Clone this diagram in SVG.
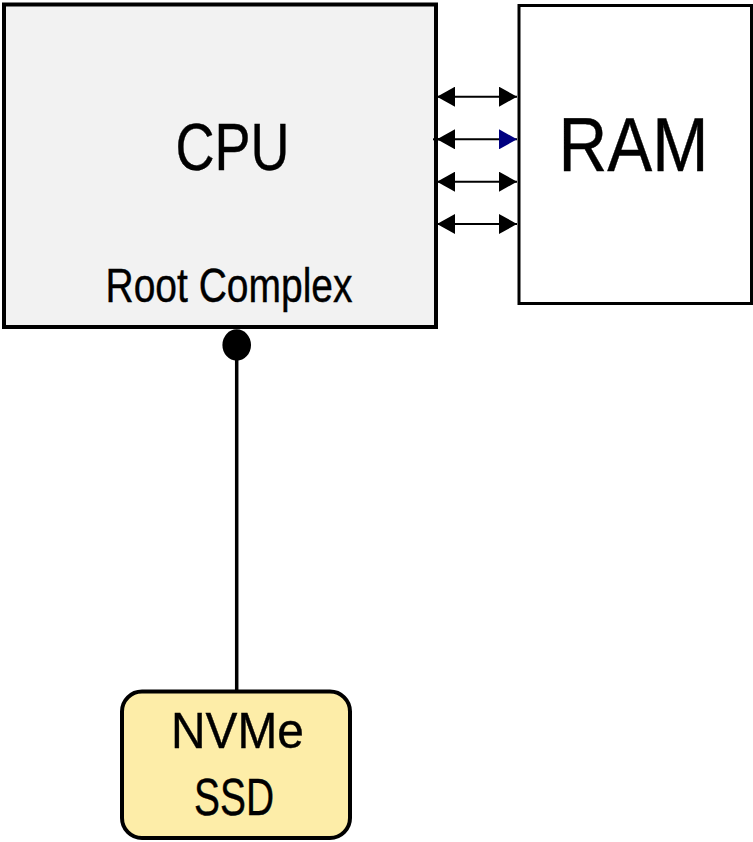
<svg xmlns="http://www.w3.org/2000/svg" width="753" height="842" viewBox="0 0 753 842">
<defs>
<style>
text{font-family:"Liberation Sans",Arial,sans-serif;fill:#000;text-anchor:middle;stroke:#000;stroke-width:0.4}
.box{stroke:#000}
.bus{stroke:#000;stroke-width:2;fill:none}
</style>
<marker id="ah" viewBox="0 0 18 20" refX="18" refY="10" markerWidth="18" markerHeight="20" markerUnits="userSpaceOnUse" orient="auto-start-reverse">
<path d="M0,0 L18,10 L0,20 Z" fill="#000"/>
</marker>
<marker id="ahb" viewBox="0 0 18 20" refX="18" refY="10" markerWidth="18" markerHeight="20" markerUnits="userSpaceOnUse" orient="auto">
<path d="M0,0 L18,10 L0,20 Z" fill="#000080"/>
</marker>
</defs>
<g id="cpu">
<rect class="box" x="4" y="4.5" width="432" height="322.5" fill="#f2f2f2" stroke-width="4"/>
<text x="232.5" y="169.5" font-size="67" textLength="114" lengthAdjust="spacingAndGlyphs">CPU</text>
<text x="229" y="301.5" font-size="48" textLength="247" lengthAdjust="spacingAndGlyphs">Root Complex</text>
</g>
<g id="ram">
<rect class="box" x="519" y="5.5" width="232.5" height="298" fill="#fff" stroke-width="3"/>
<text x="633.5" y="170.5" font-size="76" textLength="150" lengthAdjust="spacingAndGlyphs">RAM</text>
</g>
<g id="nvme">
<rect class="box" x="122" y="691.5" width="228" height="146.5" rx="20" ry="20" fill="#fdeda8" stroke-width="4"/>
<text x="237.5" y="747.5" font-size="50" textLength="133" lengthAdjust="spacingAndGlyphs">NVMe</text>
<text x="234" y="814.5" font-size="51" textLength="80" lengthAdjust="spacingAndGlyphs">SSD</text>
</g>
<g id="connectors">
<line class="bus" x1="437" y1="96.7" x2="517" y2="96.7" marker-start="url(#ah)" marker-end="url(#ah)"/>
<line class="bus" x1="437" y1="139.3" x2="517" y2="139.3" marker-start="url(#ah)" marker-end="url(#ahb)"/>
<line class="bus" x1="433" y1="139.3" x2="440" y2="139.3"/>
<line class="bus" x1="437" y1="181.7" x2="517" y2="181.7" marker-start="url(#ah)" marker-end="url(#ah)"/>
<line class="bus" x1="437" y1="224" x2="517" y2="224" marker-start="url(#ah)" marker-end="url(#ah)"/>
<line x1="236.7" y1="345" x2="236.7" y2="690" stroke="#000" stroke-width="3.5"/>
<ellipse cx="236.7" cy="345" rx="14.3" ry="15.7" fill="#000"/>
</g>
</svg>
